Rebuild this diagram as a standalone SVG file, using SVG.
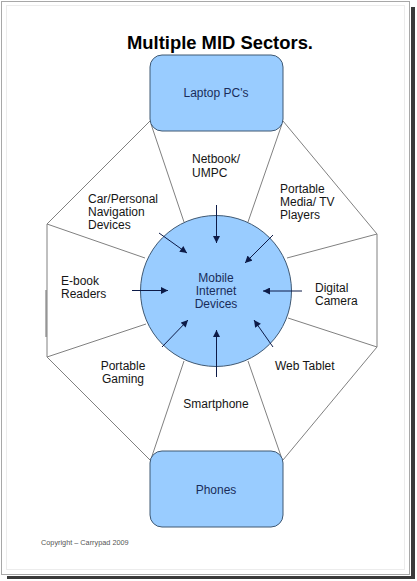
<svg xmlns="http://www.w3.org/2000/svg" width="417" height="581" viewBox="0 0 417 581">
<defs>
<marker id="ah" viewBox="0 0 10 10" refX="10" refY="5" markerWidth="8" markerHeight="7" markerUnits="userSpaceOnUse" orient="auto">
<path d="M0,0 L10,5 L0,10 z" fill="#0d1b48"/>
</marker>
</defs>
<style>
.frame{fill:#fff;stroke:#a8a8a8;stroke-width:1}
.inner{fill:none;stroke:#ececec;stroke-width:1}
.shadow{fill:#3a3a3a}
.oct{stroke:#808080;stroke-width:1;fill:none}
.arrow{stroke:#0d1b48;stroke-width:1;fill:none;marker-end:url(#ah)}
.shape{fill:#99ccff;stroke:#3f5872;stroke-width:1}
.lbl{font-family:"Liberation Sans",Arial,sans-serif;font-size:12px;fill:#151515}
.in{font-family:"Liberation Sans",Arial,sans-serif;font-size:12px;fill:#1a2c5a;text-anchor:middle}
.title{font-family:"Liberation Sans",Arial,sans-serif;font-size:18.4px;font-weight:bold;fill:#000;text-anchor:middle}
.copy{font-family:"Liberation Sans",Arial,sans-serif;font-size:7.3px;fill:#555}
</style>
<rect x="0" y="0" width="417" height="581" fill="#fff"/>
<rect class="shadow" x="411" y="7" width="4" height="572"/>
<rect class="shadow" x="7" y="576" width="408" height="3"/>
<rect class="frame" x="1.5" y="1.5" width="408" height="573"/>
<rect class="inner" x="6.5" y="5.5" width="398" height="564"/>

<text class="title" x="220" y="49">Multiple MID Sectors.</text>

<g id="connectors">
<polyline class="oct" points="150,121 47,224 47,357 150,460"/>
<polyline class="oct" points="283,121 377,234 377,347 283,460"/>
<line class="oct" x1="151" y1="124" x2="184" y2="222"/>
<line class="oct" x1="282" y1="124" x2="248" y2="222"/>
<line class="oct" x1="47" y1="224" x2="145" y2="258"/>
<line class="oct" x1="47" y1="357" x2="146" y2="324"/>
<line class="oct" x1="377" y1="234" x2="287" y2="258"/>
<line class="oct" x1="377" y1="347" x2="288" y2="318"/>
<line class="oct" x1="151" y1="459" x2="184" y2="361"/>
<line class="oct" x1="282" y1="459" x2="248" y2="361"/>
<line x1="46" y1="290" x2="46" y2="337" stroke="#6a6a6a" stroke-width="1"/>
</g>

<g id="laptop">
<rect class="shape" x="150" y="55" width="133" height="76" rx="12"/>
<text class="in" x="216" y="97">Laptop PC's</text>
</g>
<g id="phones">
<rect class="shape" x="150" y="451" width="133" height="76" rx="12"/>
<text class="in" x="216" y="494">Phones</text>
</g>
<g id="mid">
<circle class="shape" cx="216" cy="291" r="75.5"/>
<text class="in" x="216" y="282">Mobile</text>
<text class="in" x="216" y="295">Internet</text>
<text class="in" x="216" y="308">Devices</text>
</g>

<g id="arrows">
<line class="arrow" x1="216.5" y1="205" x2="216.5" y2="243"/>
<line class="arrow" x1="159" y1="233" x2="187" y2="253"/>
<line class="arrow" x1="273" y1="235" x2="245" y2="263"/>
<line class="arrow" x1="132" y1="290.5" x2="168" y2="290.5"/>
<line class="arrow" x1="302" y1="291" x2="263" y2="291"/>
<line class="arrow" x1="162" y1="347" x2="188" y2="320"/>
<line class="arrow" x1="216.5" y1="377" x2="216.5" y2="330"/>
<line class="arrow" x1="273" y1="347" x2="254" y2="320"/>
</g>

<g id="netbook"><text class="lbl" x="192" y="163">Netbook/</text><text class="lbl" x="192" y="177">UMPC</text></g>
<g id="car"><text class="lbl" x="88" y="203">Car/Personal</text><text class="lbl" x="88" y="216">Navigation</text><text class="lbl" x="88" y="229">Devices</text></g>
<g id="media"><text class="lbl" x="280" y="193">Portable</text><text class="lbl" x="280" y="206">Media/ TV</text><text class="lbl" x="280" y="219">Players</text></g>
<g id="ebook"><text class="lbl" x="61" y="285">E-book</text><text class="lbl" x="61" y="298">Readers</text></g>
<g id="camera"><text class="lbl" x="315" y="292">Digital</text><text class="lbl" x="315" y="305">Camera</text></g>
<g id="gaming"><text class="lbl" x="123" y="370" text-anchor="middle">Portable</text><text class="lbl" x="123" y="383" text-anchor="middle">Gaming</text></g>
<g id="webtablet"><text class="lbl" x="275" y="370">Web Tablet</text></g>
<g id="smartphone"><text class="lbl" x="216" y="408" text-anchor="middle">Smartphone</text></g>

<text class="copy" x="41" y="545">Copyright – Carrypad 2009</text>
</svg>
